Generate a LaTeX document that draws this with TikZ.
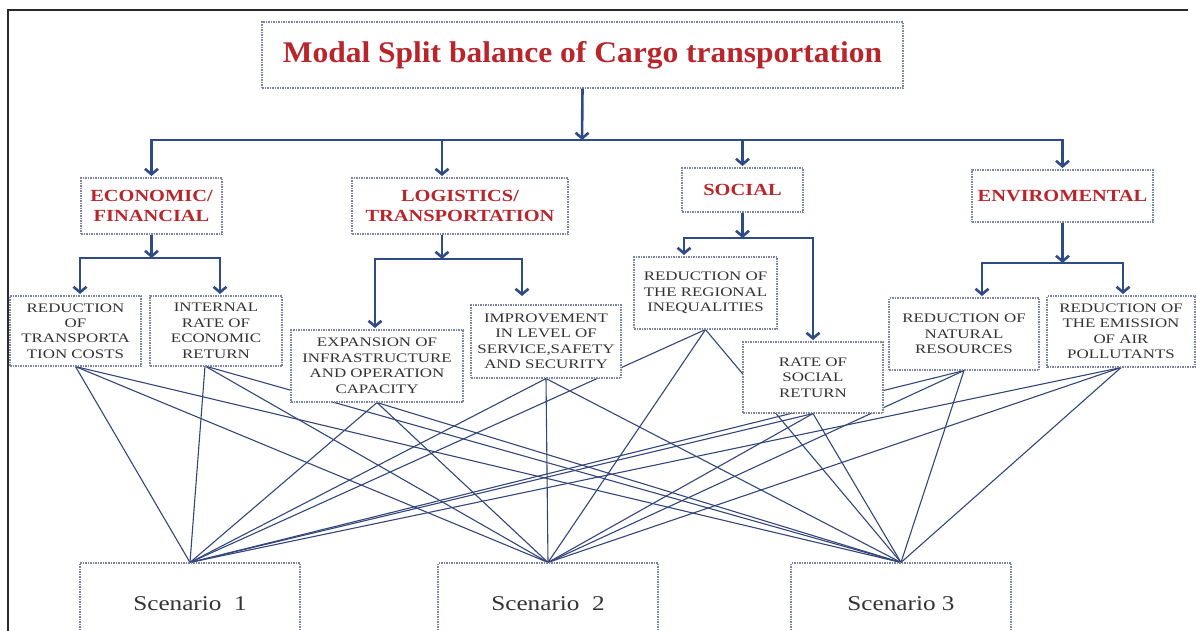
\documentclass[tikz,border=0pt]{standalone}
\usepackage{fontspec}
\setmainfont{Liberation Serif}
\newfontfamily\titlefont[FakeStretch=1.05]{Liberation Serif}
\newfontfamily\leaffont[FakeStretch=1.3]{Liberation Serif}
\newfontfamily\headfont[FakeStretch=1.2]{Liberation Serif}
\newfontfamily\scenfont[FakeStretch=1.2]{Liberation Serif}
\usetikzlibrary{arrows.meta,backgrounds,calc}
\definecolor{navy}{HTML}{2F4B86}
\definecolor{linec}{HTML}{34467A}
\definecolor{boxc}{HTML}{7C84A0}
\definecolor{redt}{HTML}{B8262C}
\definecolor{grayt}{HTML}{333333}
\definecolor{framec}{HTML}{2A2A2A}
\begin{document}
\begin{tikzpicture}[x=1pt,y=-1pt,
  box/.style={draw=boxc, dash pattern=on 1.5pt off 1pt, line width=1.1pt, fill=white, inner sep=0pt, align=center},
  head/.style={box, text=redt, font=\headfont\bfseries\fontsize{17}{20}\selectfont},
  leaf/.style={box, text=grayt, font=\leaffont\fontsize{13}{15.5}\selectfont},
  scen/.style={box, text=grayt, font=\scenfont\fontsize{21}{24}\selectfont, minimum width=220pt, minimum height=82pt},
  arr/.style={draw=navy, line width=2.6pt, -{Straight Barb[length=5.5pt,width=13pt]}},
  link/.style={draw=linec, line width=1.1pt}
]
\useasboundingbox (0,0) rectangle (1196,630);
% outer frame
\coordinate (fTL) at (8,10);
\coordinate (fTR) at (1188,10);
\coordinate (fBL) at (8,640);
\draw[framec, line width=1.6pt] (fBL) -- (fTL) -- (fTR);

% title
\node[box, minimum width=641pt, minimum height=66pt, text=redt,
      font=\titlefont\bfseries\fontsize{30}{33}\selectfont] (title) at (582.5,55) {Modal Split balance of Cargo transportation};

% headings
\node[head, minimum width=141pt, minimum height=56pt] (econ) at (151.5,206) {ECONOMIC/\\FINANCIAL};
\node[head, minimum width=216pt, minimum height=56pt] (logi) at (460,206) {LOGISTICS/\\TRANSPORTATION};
\node[head, minimum width=121pt, minimum height=44pt] (soc) at (742.5,190) {SOCIAL};
\node[head, minimum width=181pt, minimum height=52pt] (env) at (1062.5,196) {ENVIROMENTAL};

% leaves
\node[leaf, minimum width=131pt, minimum height=70pt] (rtc) at (75.5,331) {REDUCTION\\OF\\TRANSPORTA\\TION COSTS};
\node[leaf, minimum width=132pt, minimum height=70pt] (ire) at (216,331) {INTERNAL\\RATE OF\\ECONOMIC\\RETURN};
\node[leaf, minimum width=172pt, minimum height=72pt] (exp) at (377,366) {EXPANSION OF\\INFRASTRUCTURE\\AND OPERATION\\CAPACITY};
\node[leaf, minimum width=150pt, minimum height=73pt] (imp) at (546,341.5) {IMPROVEMENT\\IN LEVEL OF\\SERVICE,SAFETY\\AND SECURITY};
\node[leaf, minimum width=143pt, minimum height=72pt] (ineq) at (705.5,293) {REDUCTION OF\\THE REGIONAL\\INEQUALITIES};
\node[leaf, minimum width=140pt, minimum height=71pt] (rsr) at (813,377.5) {RATE OF\\SOCIAL\\RETURN};
\node[leaf, minimum width=150pt, minimum height=72pt] (nat) at (964,334) {REDUCTION OF\\NATURAL\\RESOURCES};
\node[leaf, minimum width=148pt, minimum height=71pt] (emi) at (1121,331.5) {REDUCTION OF\\THE EMISSION\\OF AIR\\POLLUTANTS};

% scenarios
\node[scen] (s1) at (190,604) {Scenario\ \ 1};
\node[scen] (s2) at (548,604) {Scenario\ \ 2};
\node[scen] (s3) at (901,604) {Scenario 3};

% connectors leaves -> scenarios (behind boxes)
\coordinate (ireB) at (205,366);
\begin{pgfonlayer}{background}
\foreach \src in {rtc.south, ireB, exp.south, imp.south, ineq.south, rsr.south, nat.south, emi.south}{
  \foreach \dst in {s1, s2, s3}{
    \draw[link] (\src) -- (\dst.north);
  }
}
\end{pgfonlayer}

% level 1 arrows
\coordinate (j0) at (582,140);
\coordinate (aEcon) at (151.5,176);
\coordinate (aLogi) at (442,176);
\coordinate (aSoc) at (742.5,166);
\coordinate (aEnv) at (1062.5,168);
\draw[arr] (title.south) -- (j0);
\draw[arr] (j0) -| (aEcon);
\draw[arr] (j0) -| (aLogi);
\draw[arr] (j0) -| (aSoc);
\draw[arr] (j0) -| (aEnv);

% economic
\coordinate (jE) at (151.5,258);
\coordinate (aRtc) at (80,294);
\coordinate (aIre) at (220,294);
\draw[arr] (econ.south) -- (jE);
\draw[arr] (jE) -| (aRtc);
\draw[arr] (jE) -| (aIre);

% logistics
\coordinate (jL) at (442,259);
\coordinate (aExp) at (375,328);
\coordinate (aImp) at (522,296);
\draw[arr] (logi.south -| jL) -- (jL);
\draw[arr] (jL) -| (aExp);
\draw[arr] (jL) -| (aImp);

% social
\coordinate (jS) at (742.5,238);
\coordinate (aIneq) at (684,255);
\coordinate (aRsr) at (813,340);
\draw[arr] (soc.south) -- (jS);
\draw[arr] (jS) -| (aIneq);
\draw[arr] (jS) -| (aRsr);

% environmental
\coordinate (jN) at (1062.5,263);
\coordinate (aNat) at (982,296);
\coordinate (aEmi) at (1123,294);
\draw[arr] (env.south) -- (jN);
\draw[arr] (jN) -| (aNat);
\draw[arr] (jN) -| (aEmi);
\end{tikzpicture}
\end{document}
